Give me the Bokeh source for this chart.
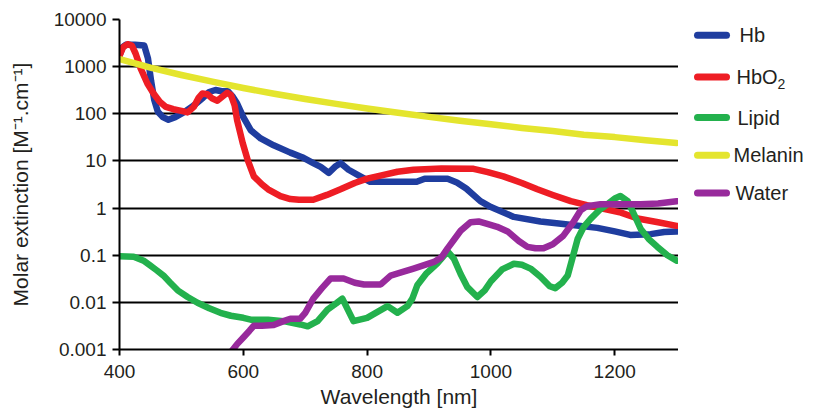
from bokeh.plotting import figure
from bokeh.models import Range1d, FixedTicker, CustomJSTickFormatter
from bokeh.layouts import row
from bokeh.core.properties import value
from bokeh.embed import file_html
from bokeh.resources import INLINE

# ---------------- data ----------------
hb_nm = [400, 405, 410, 425, 440, 446, 451, 456, 462, 470, 479, 490, 505, 520, 535, 545, 555,
         565, 575, 583, 590, 600, 612, 628, 649, 676, 695, 713, 725, 738, 748, 757, 770, 789,
         805, 840, 880, 893, 930, 945, 960, 983, 1000, 1037, 1080, 1117, 1172, 1200, 1225,
         1258, 1280, 1300]
hb_val = [1700, 2600, 2900, 2900, 2800, 1500, 500, 200, 110, 85, 75, 85, 110, 150, 220, 290, 320,
          300, 300, 230, 165, 85, 45, 30, 21.5, 15, 12, 9, 7.5, 5.6, 7.5, 9, 6.5, 4.7,
          3.6, 3.6, 3.6, 4.2, 4.2, 3.5, 2.6, 1.4, 1.05, 0.65, 0.52, 0.46, 0.38, 0.32, 0.27,
          0.28, 0.31, 0.32]

hbo2_nm = [400, 406, 413, 420, 426, 434, 445, 455, 465, 475, 487, 500, 510, 520, 528, 534, 542,
           550, 558, 566, 574, 580, 586, 590, 599, 607, 617, 630, 640, 660, 676, 690, 713, 735,
           757, 780, 800, 825, 849, 875, 920, 972, 995, 1020, 1050, 1075, 1100, 1129, 1155,
           1182, 1210, 1237, 1270, 1300]
hbo2_val = [1700, 2600, 3000, 2800, 1900, 930, 440, 270, 180, 140, 125, 115, 107, 140, 220, 270,
            260, 210, 190, 230, 280, 250, 150, 73, 24, 10.5, 4.7, 3.2, 2.5, 1.8, 1.55, 1.5, 1.5,
            1.9, 2.5, 3.4, 4.2, 5.0, 5.9, 6.5, 6.9, 6.8, 5.8, 4.7, 3.4, 2.5, 1.9, 1.4, 1.15,
            0.96, 0.8, 0.6, 0.5, 0.42]

lipid_nm = [400, 423, 440, 450, 460, 471, 482, 494, 510, 526, 545, 563, 580, 600, 612, 640, 665,
            692, 704, 720, 736, 750, 760, 770, 778, 800, 833, 849, 865, 873, 881, 895, 913, 930,
            940, 951, 962, 978, 990, 1000, 1018, 1037, 1050, 1064, 1080, 1095, 1104, 1115, 1124,
            1132, 1140, 1150, 1161, 1175, 1188, 1200, 1209, 1221, 1232, 1242, 1255, 1269, 1285,
            1300]
lipid_val = [0.095, 0.093, 0.075, 0.06, 0.048, 0.037, 0.026, 0.018, 0.013, 0.0098, 0.0075, 0.006,
             0.0052, 0.0047, 0.0043, 0.0043, 0.0040, 0.0034, 0.0031, 0.0040, 0.0070, 0.0095,
             0.012, 0.0065, 0.0040, 0.0047, 0.0083, 0.006, 0.0083, 0.012, 0.023, 0.04, 0.066,
             0.12, 0.085, 0.04, 0.021, 0.013, 0.018, 0.028, 0.05, 0.066, 0.063, 0.052, 0.035,
             0.022, 0.02, 0.026, 0.037, 0.09, 0.22, 0.4, 0.59, 0.9, 1.2, 1.6, 1.8, 1.4, 0.7,
             0.36, 0.22, 0.15, 0.1, 0.077]

melanin_nm = [400, 450, 500, 550, 600, 650, 700, 750, 800, 850, 900, 950, 1000, 1050, 1100,
              1150, 1200, 1250, 1300]
melanin_val = [1450, 950, 665, 480, 352, 267, 206, 162, 130, 105, 86, 71, 60, 50, 43, 36, 32,
               27.5, 24]

water_nm = [582, 590, 600, 610, 617, 630, 649, 665, 676, 692, 700, 713, 727, 741, 762, 780, 795,
            822, 838, 855, 875, 908, 920, 930, 940, 951, 967, 980, 994, 1010, 1027, 1045, 1059,
            1072, 1085, 1100, 1117, 1133, 1145, 1155, 1177, 1210, 1242, 1270, 1300]
water_val = [0.00095, 0.0013, 0.0018, 0.0025, 0.0032, 0.0032, 0.0033, 0.0040, 0.0045, 0.0045,
             0.006, 0.012, 0.02, 0.032, 0.032, 0.026, 0.024, 0.024, 0.037, 0.043, 0.052, 0.072,
             0.09, 0.14, 0.21, 0.33, 0.5, 0.52, 0.46, 0.4, 0.32, 0.2, 0.15, 0.14, 0.14, 0.17,
             0.26, 0.5, 0.9, 1.1, 1.2, 1.2, 1.2, 1.25, 1.4]

series_names = ["Hb", "HbO", "Lipid", "Melanin", "Water"]
series_subscripts = ["", "2", "", "", ""]
series_colors = ["#1f3d9f", "#ee1d24", "#23b14d", "#e4e52e", "#982a9c"]

x_ticks = [400, 600, 800, 1000, 1200]
y_ticks = [0.001, 0.01, 0.1, 1, 10, 100, 1000, 10000]
y_tick_labels = ["0.001", "0.01", "0.1", "1", "10", "100", "1000", "10000"]

FONT = "Liberation Sans"
TXT = "#231f20"

p = figure(width=678, height=410, y_axis_type="log", output_backend="svg",
           toolbar_location=None, x_range=Range1d(400, 1303), y_range=Range1d(0.001, 10000),
           min_border_left=119, min_border_right=0, min_border_top=19, min_border_bottom=58)
p.outline_line_color = None
p.background_fill_color = "white"

data = [(hb_nm, hb_val), (hbo2_nm, hbo2_val), (lipid_nm, lipid_val),
        (melanin_nm, melanin_val), (water_nm, water_val)]
for (xs, ys), c in zip(data, series_colors):
    p.line(xs, ys, line_color=c, line_width=6.5, line_cap="round", line_join="round")

# axes
p.xaxis.ticker = FixedTicker(ticks=x_ticks)
p.yaxis.ticker = FixedTicker(ticks=y_ticks)
p.yaxis.formatter = CustomJSTickFormatter(args=dict(vals=y_ticks, labs=y_tick_labels), code="""
    let best = 0, bd = 1e9;
    for (let i = 0; i < vals.length; i++) {
        const d = Math.abs(Math.log10(vals[i]) - Math.log10(tick));
        if (d < bd) { bd = d; best = i; }
    }
    return labs[best];
""")
for ax in (p.xaxis[0], p.yaxis[0]):
    ax.axis_line_color = "black"
    ax.axis_line_width = 2
    ax.major_tick_line_color = "black"
    ax.major_tick_line_width = 2
    ax.minor_tick_line_color = None
    ax.major_tick_in = 0
    ax.major_label_text_font = FONT
    ax.major_label_text_font_size = "19px"
    ax.major_label_text_color = TXT
    ax.axis_label_text_font = FONT
    ax.axis_label_text_font_size = "21px"
    ax.axis_label_text_font_style = "normal"
    ax.axis_label_text_color = TXT

p.xaxis.major_tick_out = 6
p.yaxis.major_tick_out = 7
p.xaxis.major_label_standoff = 9
p.yaxis.major_label_standoff = 6
p.xaxis.major_label_text_line_height = 0.8
p.xaxis.axis_label_text_line_height = 0.8
p.xaxis.axis_label = "Wavelength [nm]"
p.yaxis.axis_label = "Molar extinction [M\u207b\u00b9.cm\u207b\u00b9]"
p.xaxis.axis_label_standoff = 4
p.yaxis.axis_label_standoff = 19

p.xgrid.grid_line_color = None
p.ygrid.grid_line_color = "black"
p.ygrid.grid_line_width = 2
p.ygrid.ticker = FixedTicker(ticks=y_ticks)

# ---------------- legend panel (pixel coordinates; its frame aligns with the plot frame) ----
leg = figure(width=136, height=410, output_backend="svg", toolbar_location=None,
             x_range=Range1d(678, 814), y_range=Range1d(352, 19),
             x_axis_location=None, y_axis_location=None,
             min_border_left=0, min_border_right=0, min_border_top=19, min_border_bottom=58,
             outline_line_color=None)
leg.grid.visible = False

leg_y = [35, 77, 118, 156, 194]
leg_text_x = [739, 736, 737, 733, 735]
leg.segment(x0=[697] * 5, y0=leg_y, x1=[726] * 5, y1=leg_y, line_color=series_colors,
            line_width=7, line_cap="round")
leg.text(x=leg_text_x, y=leg_y, text=series_names, text_font=value(FONT),
         text_font_size="20px", text_color=TXT, text_baseline="middle", text_align="left")
leg.text(x=[777], y=[84], text=[series_subscripts[1]], text_font=value(FONT),
         text_font_size="14px", text_color=TXT, text_baseline="middle", text_align="left")

open("out.html", "w").write(file_html(row(p, leg), INLINE))
